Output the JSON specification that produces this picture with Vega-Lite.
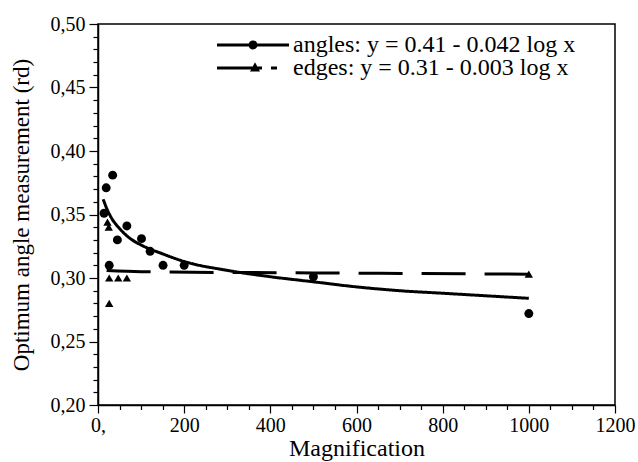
{
  "$schema": "https://vega.github.io/schema/vega-lite/v6.json",
  "width": 517,
  "height": 381,
  "autosize": {"type": "none"},
  "padding": {"left": 98, "top": 24, "right": 23, "bottom": 57},
  "background": "white",
  "config": {
    "view": {"stroke": "black", "strokeWidth": 1.5},
    "axis": {
      "domainColor": "black",
      "domainWidth": 1.5,
      "tickColor": "black",
      "tickWidth": 1.2,
      "labelColor": "black",
      "titleColor": "black",
      "grid": false,
      "titleFontWeight": "normal"
    }
  },
  "datasets": {
    "fits": [
      {"fit": "angles: y = 0.41 - 0.042 log x", "x": 12, "y": 0.362},
      {"fit": "angles: y = 0.41 - 0.042 log x", "x": 20, "y": 0.355},
      {"fit": "angles: y = 0.41 - 0.042 log x", "x": 30, "y": 0.348},
      {"fit": "angles: y = 0.41 - 0.042 log x", "x": 50, "y": 0.339},
      {"fit": "angles: y = 0.41 - 0.042 log x", "x": 75, "y": 0.331},
      {"fit": "angles: y = 0.41 - 0.042 log x", "x": 100, "y": 0.326},
      {"fit": "angles: y = 0.41 - 0.042 log x", "x": 150, "y": 0.319},
      {"fit": "angles: y = 0.41 - 0.042 log x", "x": 200, "y": 0.313},
      {"fit": "angles: y = 0.41 - 0.042 log x", "x": 300, "y": 0.306},
      {"fit": "angles: y = 0.41 - 0.042 log x", "x": 400, "y": 0.301},
      {"fit": "angles: y = 0.41 - 0.042 log x", "x": 500, "y": 0.297},
      {"fit": "angles: y = 0.41 - 0.042 log x", "x": 600, "y": 0.293},
      {"fit": "angles: y = 0.41 - 0.042 log x", "x": 700, "y": 0.290},
      {"fit": "angles: y = 0.41 - 0.042 log x", "x": 800, "y": 0.288},
      {"fit": "angles: y = 0.41 - 0.042 log x", "x": 900, "y": 0.286},
      {"fit": "angles: y = 0.41 - 0.042 log x", "x": 1000, "y": 0.284},
      {"fit": "edges: y = 0.31 - 0.003 log x", "x": 20, "y": 0.306},
      {"fit": "edges: y = 0.31 - 0.003 log x", "x": 100, "y": 0.305},
      {"fit": "edges: y = 0.31 - 0.003 log x", "x": 500, "y": 0.304},
      {"fit": "edges: y = 0.31 - 0.003 log x", "x": 1000, "y": 0.303}
    ],
    "obs": [
      {"kind": "angles", "x": 14, "y": 0.351},
      {"kind": "angles", "x": 19, "y": 0.371},
      {"kind": "angles", "x": 34, "y": 0.381},
      {"kind": "angles", "x": 26, "y": 0.310},
      {"kind": "angles", "x": 45, "y": 0.330},
      {"kind": "angles", "x": 67, "y": 0.341},
      {"kind": "angles", "x": 101, "y": 0.331},
      {"kind": "angles", "x": 121, "y": 0.321},
      {"kind": "angles", "x": 151, "y": 0.310},
      {"kind": "angles", "x": 200, "y": 0.310},
      {"kind": "angles", "x": 500, "y": 0.301},
      {"kind": "angles", "x": 1000, "y": 0.272},
      {"kind": "edges", "x": 22, "y": 0.344},
      {"kind": "edges", "x": 25, "y": 0.340},
      {"kind": "edges", "x": 26, "y": 0.300},
      {"kind": "edges", "x": 47, "y": 0.300},
      {"kind": "edges", "x": 67, "y": 0.300},
      {"kind": "edges", "x": 26, "y": 0.280},
      {"kind": "edges", "x": 1000, "y": 0.303}
    ]
  },
  "encoding": {
    "x": {
      "field": "x", "type": "quantitative",
      "scale": {"domain": [0, 1200]},
      "axis": {
        "values": [0, 50, 100, 150, 200, 250, 300, 350, 400, 450, 500, 550, 600, 650, 700, 750, 800, 850, 900, 950, 1000, 1050, 1100, 1150, 1200],
        "labelExpr": "datum.value % 200 == 0 ? (datum.value == 0 ? '0,' : format(datum.value, 'd')) : ''",
        "title": "Magnification",
        "labelFont": "Liberation Serif",
        "titleFont": "Liberation Serif",
        "labelFontSize": 20,
        "titleFontSize": 24,
        "tickSize": {"condition": {"test": "datum.value % 200 == 0", "value": 8}, "value": 4.5},
        "labelPadding": 2,
        "labelFlush": false,
        "labelOverlap": false,
        "titlePadding": 1
      }
    },
    "y": {
      "field": "y", "type": "quantitative",
      "scale": {"domain": [0.2, 0.5]},
      "axis": {
        "values": [0.2, 0.21, 0.22, 0.23, 0.24, 0.25, 0.26, 0.27, 0.28, 0.29, 0.3, 0.31, 0.32, 0.33, 0.34, 0.35, 0.36, 0.37, 0.38, 0.39, 0.4, 0.41, 0.42, 0.43, 0.44, 0.45, 0.46, 0.47, 0.48, 0.49, 0.5],
        "labelExpr": "round(datum.value * 100) % 5 == 0 ? replace(format(datum.value, '.2f'), '.', ',') : ''",
        "title": "Optimum angle measurement (rd)",
        "labelFont": "Liberation Serif",
        "titleFont": "Liberation Serif",
        "labelFontSize": 20,
        "titleFontSize": 23,
        "tickSize": {"condition": {"test": "round(datum.value * 100) % 5 == 0", "value": 9}, "value": 5},
        "labelPadding": 4,
        "labelFlush": false,
        "labelOverlap": false,
        "titlePadding": 17
      }
    }
  },
  "layer": [
    {
      "data": {"name": "fits"},
      "mark": {"type": "line", "color": "black", "strokeWidth": 3, "interpolate": "monotone"},
      "encoding": {
        "strokeDash": {
          "field": "fit", "type": "nominal",
          "scale": {
            "domain": ["angles: y = 0.41 - 0.042 log x", "edges: y = 0.31 - 0.003 log x"],
            "range": [[1, 0], [44, 19]]
          },
          "legend": {
            "orient": "none",
            "legendX": 119,
            "legendY": -15,
            "values": ["angles: y = 0.41 - 0.042 log x"],
            "title": null,
            "padding": 0,
            "symbolType": "M-1,-0.042H1V0.042H-1Z M0.125,0A0.125,0.125 0 1 1 -0.125,0A0.125,0.125 0 1 1 0.125,0Z",
            "symbolSize": 5184,
            "symbolFillColor": "black",
            "symbolStrokeWidth": 0,
            "symbolOpacity": 1,
            "labelOffset": 4,
            "labelFontSize": 24,
            "labelFont": "Liberation Serif",
            "labelColor": "black",
            "labelLimit": 500
          }
        }
      }
    },
    {
      "data": {"name": "obs"},
      "transform": [{"filter": "datum.kind == 'angles'"}],
      "mark": {"type": "point", "filled": true, "opacity": 1, "size": 80, "color": "black"},
      "encoding": {}
    },
    {
      "data": {"name": "obs"},
      "transform": [{"filter": "datum.kind == 'edges'"}],
      "mark": {"type": "point", "filled": true, "opacity": 1, "size": 70},
      "encoding": {
        "shape": {"value": "triangle-up"},
        "color": {
          "field": "kind", "type": "nominal",
          "scale": {"domain": ["edges"], "range": ["black"]},
          "legend": {
            "orient": "none",
            "legendX": 119,
            "legendY": 8,
            "values": ["edges"],
            "labelExpr": "'edges: y = 0.31 - 0.003 log x'",
            "title": null,
            "padding": 0,
            "symbolType": "M-1,-0.042H0.25V0.042H-1Z M0.056,-0.16L0.195,0.1L-0.083,0.1Z M0.5,-0.042H0.667V0.042H0.5Z",
            "symbolSize": 5184,
            "symbolStrokeWidth": 0,
            "symbolOpacity": 1,
            "labelOffset": 4,
            "labelFontSize": 24,
            "labelFont": "Liberation Serif",
            "labelColor": "black",
            "labelLimit": 500
          }
        }
      }
    }
  ]
}
